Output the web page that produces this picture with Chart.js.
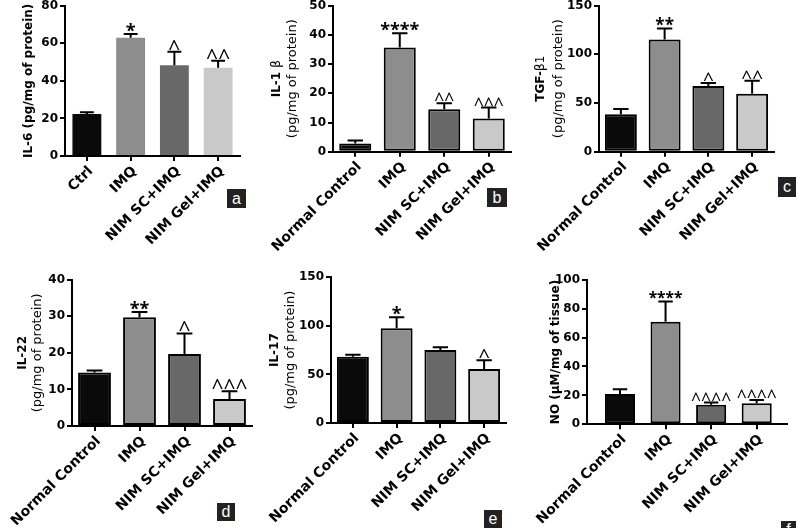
<!DOCTYPE html>
<html>
<head>
<meta charset="utf-8">
<script src="https://cdn.jsdelivr.net/npm/chart.js@4.4.0/dist/chart.umd.min.js"></script>
<style>
  html, body { margin: 0; padding: 0; background: #fff; }
  #fig { position: relative; width: 798px; height: 528px; overflow: hidden; }
  #fig canvas { position: absolute; }
  .tag { position: absolute; background: #222; color: #fff; font: 16px "Liberation Sans", Arial, sans-serif; text-align: center; }
</style>
</head>
<body>
<div id="fig"></div>
<script>
// groups and values (mean, upper SD)
const groupsShort = ['Ctrl', 'IMQ', 'NIM SC+IMQ', 'NIM Gel+IMQ'];
const groups = ['Normal Control', 'IMQ', 'NIM SC+IMQ', 'NIM Gel+IMQ'];
const barColors = ['#0a0a0a', '#8d8d8d', '#686868', '#c9c9c9'];

const il6Mean = [22.3, 63.0, 48.3, 47.0];
const il6Err = [1.0, 2.0, 7.2, 3.7];
const il6Sig = ['', '*', '^', '^^'];

const il1bMean = [2.8, 35.7, 14.5, 11.4];
const il1bErr = [1.0, 4.9, 2.1, 3.7];
const il1bSig = ['', '****', '^^', '^^^'];

const tgfMean = [38.4, 115.4, 67.5, 59.6];
const tgfErr = [5.4, 11.3, 3.0, 13.3];
const tgfSig = ['', '**', '^', '^^'];

const il22Mean = [14.6, 29.7, 19.7, 7.4];
const il22Err = [0.6, 1.5, 5.6, 2.1];
const il22Sig = ['', '**', '^', '^^^'];

const il17Mean = [68.3, 97.5, 75.2, 55.6];
const il17Err = [2.0, 11.3, 2.8, 8.9];
const il17Sig = ['', '*', '', '^'];

const noMean = [21.0, 71.0, 13.6, 14.5];
const noErr = [3.2, 14.0, 1.4, 2.3];
const noSig = ['', '****', '^^^^', '^^^^'];

const yMaxes = [80, 50, 150, 40, 150, 100];
const ySteps = [20, 10, 50, 10, 50, 20];

const BOLD = 'bold 12px "DejaVu Sans"';
const THIN = '12px "DejaVu Sans"';
const REG = '13px "DejaVu Sans"';

const panels = [
  { tag: 'a', labels: groupsShort, mean: il6Mean, err: il6Err, sig: il6Sig, star: 18, caret: 21,
    x0: 0, y0: 0, box: { left: 65, right: 240, top: 5.7, bottom: 156 }, pct: 0.66, border: 0, pad: [0, 0],
    titles: [{ x: 29, runs: [['IL-6 (pg/mg of protein)', BOLD]] }],
    tagBox: [227, 189, 19, 19] },
  { tag: 'b', labels: groups, mean: il1bMean, err: il1bErr, sig: il1bSig, star: 18, caret: 17.5,
    x0: 266, y0: 0, box: { left: 333, right: 511, top: 5.7, bottom: 151.7 }, pct: 0.72, border: 2, pad: [0, 0],
    titles: [{ x: 276.5, runs: [['IL-1 ', BOLD], ['\u03b2', THIN]] },
             { x: 292.5, runs: [['(pg/mg of protein)', REG]] }],
    tagBox: [487, 188, 20, 19] },
  { tag: 'c', labels: groups, mean: tgfMean, err: tgfErr, sig: tgfSig, star: 17, caret: 19,
    x0: 532, y0: 0, box: { left: 599, right: 774, top: 5.7, bottom: 151.7 }, pct: 0.73, border: 2, pad: [0, 0],
    titles: [{ x: 540.5, runs: [['TGF-', BOLD], ['\u03b21', THIN]] },
             { x: 559, runs: [['(pg/mg of protein)', REG]] }],
    tagBox: [778, 177, 18, 20] },
  { tag: 'd', labels: groups, mean: il22Mean, err: il22Err, sig: il22Sig, star: 18, caret: 21,
    x0: 0, y0: 264, box: { left: 72, right: 252, top: 279.7, bottom: 426 }, pct: 0.73, border: 2, pad: [0, 0],
    titles: [{ x: 23.3, runs: [['IL-22', BOLD]] },
             { x: 37.5, runs: [['(pg/mg of protein)', REG]] }],
    tagBox: [217, 503, 18, 18] },
  { tag: 'e', labels: groups, mean: il17Mean, err: il17Err, sig: il17Sig, star: 18, caret: 20,
    x0: 266, y0: 264, box: { left: 331, right: 506, top: 277.3, bottom: 423 }, pct: 0.73, border: 2, pad: [0, 0],
    titles: [{ x: 274.5, runs: [['IL-17', BOLD]] },
             { x: 290.7, runs: [['(pg/mg of protein)', REG]] }],
    tagBox: [484, 510, 18, 18] },
  { tag: 'f', labels: groups, mean: noMean, err: noErr, sig: noSig, star: 15.5, caret: 17.5,
    x0: 532, y0: 264, box: { left: 587, right: 787, top: 279.7, bottom: 424.3 }, pct: 0.66, border: 2, pad: [0.224, 0.165],
    titles: [{ x: 555.5, runs: [['NO (\u03bcM/mg of tissue)', BOLD]] }],
    tagBox: [781, 521, 15, 17] }
];

// error bars, significance marks and axis titles
const extras = {
  id: 'extras',
  afterDatasetsDraw(chart, args, opts) {
    const p = opts.panel;
    const ctx = chart.ctx;
    const y = chart.scales.y;
    const meta = chart.getDatasetMeta(0);
    ctx.save();
    meta.data.forEach((bar, i) => {
      const top = y.getPixelForValue(p.mean[i]);
      const tip = y.getPixelForValue(p.mean[i] + p.err[i]);
      const half = bar.width * 0.24;
      ctx.strokeStyle = '#000';
      ctx.lineWidth = 2;
      ctx.beginPath();
      ctx.moveTo(bar.x, top);
      ctx.lineTo(bar.x, tip);
      ctx.moveTo(bar.x - half, tip);
      ctx.lineTo(bar.x + half, tip);
      ctx.stroke();
      const s = p.sig[i];
      if (s) {
        ctx.font = s.includes('*') ? 'bold ' + p.star + 'px "Open Sans"' : p.caret + 'px "Open Sans"';
        ctx.textAlign = 'center';
        ctx.textBaseline = 'alphabetic';
        ctx.fillStyle = '#000';
        const m = ctx.measureText(s);
        ctx.fillText(s, bar.x, tip - 2 - m.actualBoundingBoxDescent);
      }
    });
    const cy = (chart.chartArea.top + chart.chartArea.bottom) / 2;
    p.titles.forEach(line => {
      ctx.save();
      ctx.translate(line.x - p.x0, cy);
      ctx.rotate(-Math.PI / 2);
      ctx.textBaseline = 'middle';
      ctx.textAlign = 'left';
      ctx.fillStyle = '#000';
      let total = 0;
      line.runs.forEach(r => { ctx.font = r[1]; total += ctx.measureText(r[0]).width; });
      let cx = -total / 2;
      line.runs.forEach(r => {
        ctx.font = r[1];
        ctx.fillText(r[0], cx, 0);
        cx += ctx.measureText(r[0]).width;
      });
      ctx.restore();
    });
    ctx.restore();
  }
};

const fig = document.getElementById('fig');

panels.forEach((p, k) => {
  const canvas = document.createElement('canvas');
  canvas.width = 266;
  canvas.height = 264;
  canvas.style.left = p.x0 + 'px';
  canvas.style.top = p.y0 + 'px';
  canvas.style.width = '266px';
  canvas.style.height = '264px';
  fig.appendChild(canvas);

  const tag = document.createElement('div');
  tag.className = 'tag';
  tag.textContent = p.tag;
  tag.style.left = p.tagBox[0] + 'px';
  tag.style.top = p.tagBox[1] + 'px';
  tag.style.width = p.tagBox[2] + 'px';
  tag.style.height = p.tagBox[3] + 'px';
  tag.style.lineHeight = p.tagBox[3] + 'px';
  fig.appendChild(tag);

  new Chart(canvas.getContext('2d'), {
    type: 'bar',
    data: {
      datasets: [{
        data: p.mean.map((v, i) => ({ x: i, y: v })),
        backgroundColor: barColors,
        borderColor: '#000',
        borderWidth: p.border,
        borderSkipped: false,
        barPercentage: p.pct,
        categoryPercentage: 1
      }]
    },
    options: {
      responsive: false,
      animation: false,
      layout: { padding: { left: 0, top: p.box.top - p.y0, right: p.x0 + 266 - p.box.right, bottom: 0 } },
      plugins: { legend: { display: false }, tooltip: { enabled: false }, extras: { panel: p } },
      scales: {
        x: {
          type: 'linear',
          offset: false,
          min: -0.5 - p.pad[0],
          max: 3.5 + p.pad[1],
          afterBuildTicks: s => { s.ticks = p.labels.map((_, i) => ({ value: i })); },
          afterFit: s => { s.height = p.y0 + 264 - p.box.bottom; s.paddingLeft = 0; s.paddingRight = 0; },
          ticks: {
            callback: v => p.labels[v],
            autoSkip: false,
            minRotation: 45,
            maxRotation: 45,
            padding: 2,
            labelOffset: 4,
            color: '#000',
            font: { family: 'DejaVu Sans', weight: 'bold', size: 14 }
          },
          grid: { offset: false, drawOnChartArea: false, color: '#000', lineWidth: 2, tickLength: 5 },
          border: { color: '#000', width: 2 }
        },
        y: {
          min: 0,
          max: yMaxes[k],
          afterFit: s => { s.width = p.box.left - p.x0; s.paddingTop = 0; s.paddingBottom = 0; },
          ticks: {
            stepSize: ySteps[k],
            padding: 2,
            color: '#000',
            font: { family: 'DejaVu Sans', weight: 'bold', size: 12 }
          },
          grid: { drawOnChartArea: false, color: '#000', lineWidth: 2, tickLength: 5 },
          border: { color: '#000', width: 2 }
        }
      }
    },
    plugins: [extras]
  });
});
</script>
</body>
</html>
